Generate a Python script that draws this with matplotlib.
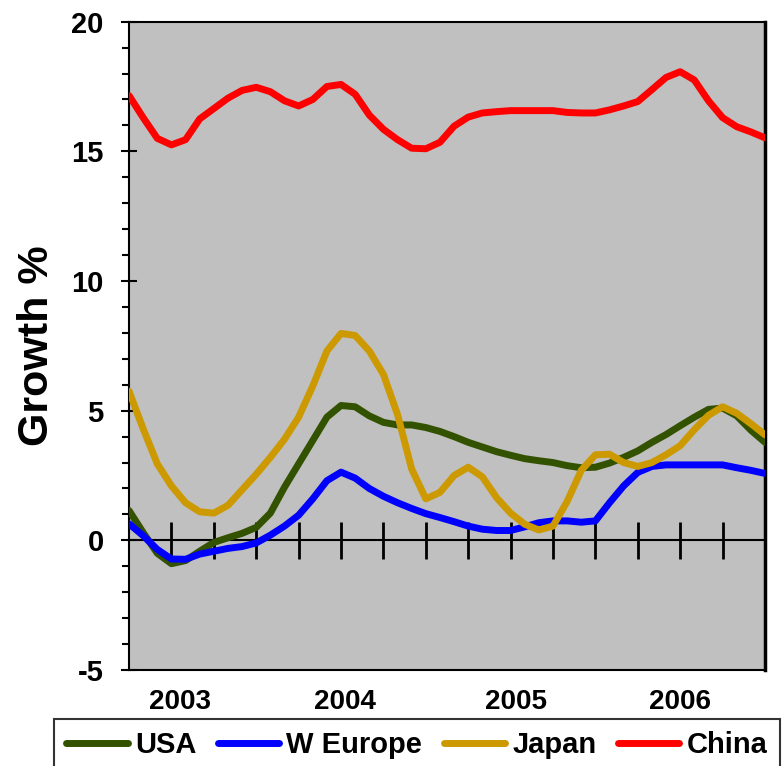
import matplotlib.pyplot as plt
import numpy as np

plt.rcParams['font.family'] = ['Liberation Sans', 'DejaVu Sans']
plt.rcParams['font.weight'] = 'bold'
plt.rcParams['axes.unicode_minus'] = False

# monthly points, sep 2002 .. jun 2006
usa = [1.15, 0.3, -0.5, -0.9, -0.78, -0.42, -0.08, 0.1, 0.27, 0.5,
       1.05, 2.05, 2.95, 3.85, 4.75, 5.2, 5.15, 4.8, 4.55, 4.45,
       4.45, 4.35, 4.2, 4.0, 3.78, 3.6, 3.42, 3.28, 3.15, 3.07,
       3.0, 2.88, 2.8, 2.82, 2.98, 3.2, 3.45, 3.78, 4.08, 4.42,
       4.75, 5.05, 5.1, 4.8, 4.25, 3.78]
w_europe = [0.64, 0.18, -0.35, -0.72, -0.73, -0.53, -0.42, -0.31, -0.24, -0.1,
            0.2, 0.55, 0.97, 1.6, 2.3, 2.63, 2.4, 2.0, 1.7, 1.45,
            1.23, 1.03, 0.88, 0.72, 0.55, 0.43, 0.38, 0.38, 0.52, 0.68,
            0.75, 0.75, 0.7, 0.75, 1.45, 2.1, 2.62, 2.85, 2.91, 2.91,
            2.91, 2.91, 2.91, 2.8, 2.7, 2.58]
japan = [5.75, 4.3, 2.95, 2.1, 1.45, 1.1, 1.05, 1.35, 1.95, 2.55,
         3.2, 3.9, 4.75, 5.95, 7.3, 7.98, 7.9, 7.3, 6.4, 4.85,
         2.75, 1.6, 1.85, 2.5, 2.82, 2.45, 1.65, 1.05, 0.62, 0.4,
         0.55, 1.5, 2.7, 3.3, 3.32, 3.0, 2.85, 3.0, 3.3, 3.65,
         4.27, 4.82, 5.15, 4.9, 4.5, 4.07]
china = [17.15, 16.3, 15.5, 15.25, 15.45, 16.25, 16.65, 17.05, 17.35, 17.47,
         17.3, 16.95, 16.75, 17.0, 17.5, 17.58, 17.2, 16.4, 15.85, 15.45,
         15.12, 15.1, 15.35, 15.97, 16.32, 16.48, 16.53, 16.57, 16.57, 16.57,
         16.57, 16.5, 16.48, 16.48, 16.6, 16.75, 16.92, 17.38, 17.85, 18.07,
         17.75, 16.95, 16.3, 15.95, 15.75, 15.52]

series = {'USA': (usa, '#335200'),
          'W Europe': (w_europe, '#0000FF'),
          'Japan': (japan, '#CC9900'),
          'China': (china, '#FF0000')}

years = ['2003', '2004', '2005', '2006']
year_pos = [3.6, 15.3, 27.4, 39.0]
quarter_ticks = np.arange(3, 46, 3)

fig = plt.figure(figsize=(7.83, 7.66), dpi=100)
ax = fig.add_axes([0.1648, 0.1253, 0.8122, 0.8464])
ax.set_facecolor('#C0C0C0')

months = np.arange(len(usa))
lines = []
for name, (vals, col) in series.items():
    ln, = ax.plot(months, vals, color=col, lw=5, label=name,
                  solid_joinstyle='round', solid_capstyle='round', zorder=3)
    lines.append(ln)

# x axis drawn through zero with crossing quarter ticks
ax.axhline(0, color='black', lw=1.5, zorder=2)
ax.vlines(quarter_ticks, -0.7, 0.7, color='black', lw=2, zorder=2)

ax.set_xlim(0, 45)
ax.set_ylim(-5, 20)
ax.set_yticks(np.arange(-5, 21, 5))
ax.set_yticks(np.arange(-5, 21, 1), minor=True)
ax.tick_params(axis='y', which='major', direction='inout', length=11.5,
               width=1.5, labelsize=21, pad=12.5)
ax.tick_params(axis='y', which='minor', direction='out', length=5, width=1.5)
ax.set_xticks(year_pos, years)
ax.tick_params(axis='x', length=0, labelsize=20, pad=14)
for s in ax.spines.values():
    s.set_linewidth(1.5)
ax.spines['right'].set_linewidth(2.5)

ax.set_ylabel('Growth %', fontsize=31, fontweight='bold', labelpad=10)

leg = fig.legend(handles=lines, loc='upper left',
                 bbox_to_anchor=(54 / 783, 1 - 719 / 766), ncol=4,
                 fontsize=21, handlelength=2.1, handletextpad=0.25,
                 columnspacing=0.74, borderpad=0.42, fancybox=False,
                 frameon=True, borderaxespad=0)
leg.get_frame().set_edgecolor('black')
leg.get_frame().set_linewidth(1.5)
for h in leg.legend_handles:
    h.set_linewidth(5)
    h.set_solid_capstyle('round')

fig.savefig('out.png', dpi=100)
